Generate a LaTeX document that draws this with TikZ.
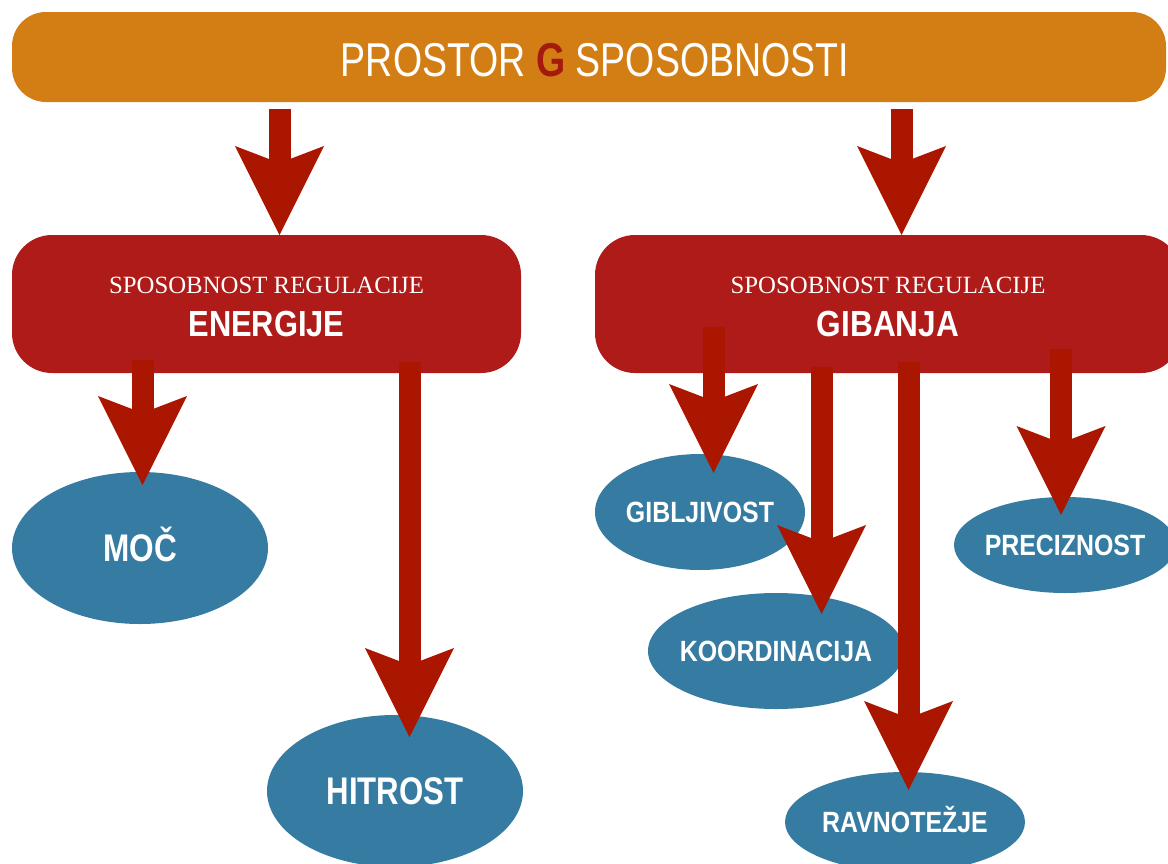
\documentclass[tikz,border=0pt]{standalone}
\usepackage{fontspec}
\usepackage{graphicx}
\setmainfont{Liberation Serif}
\setsansfont{Liberation Sans}
\usetikzlibrary{arrows.meta,shapes.geometric}
\definecolor{barorange}{HTML}{D27E15}
\definecolor{boxred}{HTML}{AE1B18}
\definecolor{arrowred}{HTML}{AA1600}
\definecolor{ellblue}{HTML}{367CA2}
\definecolor{gred}{HTML}{A61A0E}
\newcommand{\ztxt}[2]{\makebox[0pt]{\scalebox{#1}[1]{#2}}}
\begin{document}
\begin{tikzpicture}[x=1pt,y=-1pt,
  topbar/.style={rectangle, rounded corners=34pt, fill=barorange, draw=none,
    minimum width=1154pt, minimum height=90pt, inner sep=0pt},
  regbox/.style={rectangle, rounded corners=40pt, fill=boxred, draw=none,
    minimum height=138pt, inner sep=0pt},
  ell/.style={ellipse, fill=ellblue, draw=none, inner sep=0pt, text=white,
    font=\sffamily\bfseries\fontsize{29.3pt}{30pt}\selectfont,
    text height=21pt, text depth=0pt},
  bigell/.style={ell, font=\sffamily\bfseries\fontsize{38.5pt}{40pt}\selectfont,
    text height=27.5pt},
  serifline/.style={anchor=base, text=white, inner sep=0pt,
    font=\rmfamily\fontsize{24.8pt}{26pt}\selectfont},
  boldline/.style={anchor=base, text=white, inner sep=0pt,
    font=\sffamily\bfseries\fontsize{36.3pt}{38pt}\selectfont},
  bigarrow/.style={draw=arrowred, line width=22pt,
    -{Stealth[length=89pt, width=89pt, inset=17pt, line width=0pt, fill=arrowred, color=arrowred]}}
]
\useasboundingbox (0,0) rectangle (1168,863);
\clip (0,0) rectangle (1168,863);

% top bar
\node[topbar] (top) at (589,57) {};
\node[anchor=base, text=white, inner sep=0pt,
  font=\sffamily\fontsize{47.5pt}{50pt}\selectfont] (topt) at (595,76)
  {\scalebox{0.79}[1]{PROSTOR {\bfseries\color{gred}G} SPOSOBNOSTI}};

% regulation boxes
\node[regbox, minimum width=509pt] (energ) at (266.5,304) {};
\node[serifline] (energt1) at (266.5,293) {SPOSOBNOST REGULACIJE};
\node[boldline] (energt2) at (266.5,336) {\scalebox{0.85}[1]{ENERGIJE}};

\node[regbox, minimum width=586pt] (gib) at (888,304) {};
\node[serifline] (gibt1) at (888,293) {SPOSOBNOST REGULACIJE};
\node[boldline] (gibt2) at (888,336) {\scalebox{0.87}[1]{GIBANJA}};

% ellipses
\node[bigell, minimum width=256pt, minimum height=152pt] (moc) at (140,548) {\ztxt{0.82}{MOČ}};
\node[bigell, minimum width=256pt, minimum height=152pt] (hit) at (395,791) {\ztxt{0.81}{HITROST}};
\node[ell, minimum width=210pt, minimum height=116pt] (gibl) at (700,512) {\ztxt{0.85}{GIBLJIVOST}};
\node[ell, minimum width=256pt, minimum height=116pt] (koord) at (776,651) {\ztxt{0.85}{KOORDINACIJA}};
\node[ell, minimum width=222pt, minimum height=96pt] (prec) at (1065,545) {\ztxt{0.85}{PRECIZNOST}};
\node[ell, minimum width=240pt, minimum height=100pt] (ravn) at (905,822) {\ztxt{0.85}{RAVNOTEŽJE}};

% arrow end points
\coordinate (a1s) at (279.5,109);  \coordinate (a1e) at (279.5,235);
\coordinate (a2s) at (901.5,109);  \coordinate (a2e) at (901.5,235);
\coordinate (a3s) at (142.5,360);  \coordinate (a3e) at (142.5,485);
\coordinate (a4s) at (409.5,362);  \coordinate (a4e) at (409.5,737);
\coordinate (a5s) at (713.5,327);  \coordinate (a5e) at (713.5,473);
\coordinate (a6s) at (821.5,367);  \coordinate (a6e) at (821.5,614);
\coordinate (a7s) at (908.5,362);  \coordinate (a7e) at (908.5,790);
\coordinate (a8s) at (1061,349);   \coordinate (a8e) at (1061,515);

% arrows
\draw[bigarrow] (a1s) -- (a1e);
\draw[bigarrow] (a2s) -- (a2e);
\draw[bigarrow] (a3s) -- (a3e);
\draw[bigarrow] (a4s) -- (a4e);
\draw[bigarrow] (a5s) -- (a5e);
\draw[bigarrow] (a6s) -- (a6e);
\draw[bigarrow] (a7s) -- (a7e);
\draw[bigarrow] (a8s) -- (a8e);
\end{tikzpicture}
\end{document}
